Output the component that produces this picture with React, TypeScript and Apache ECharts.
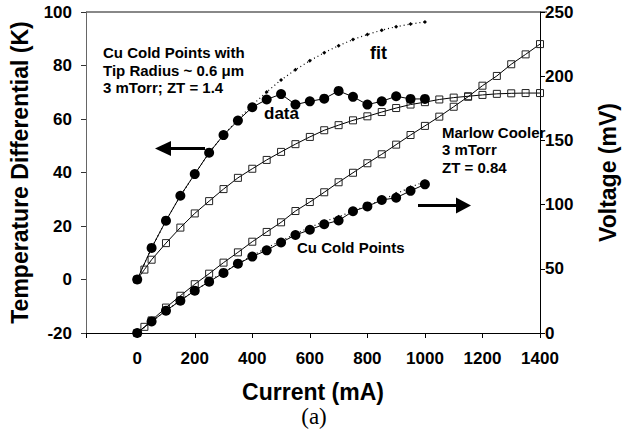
import React, { useEffect, useRef } from 'react';
import * as echarts from 'echarts';

// Cu cold points (filled circles), current in mA
const cuCurrent = [0, 50, 100, 150, 200, 250, 300, 350, 400, 450, 500, 550, 600, 650, 700, 750, 800, 850, 900, 950, 1000];
const cuTempData = [0, 11.8, 22, 31.3, 39.4, 47.4, 54, 59.4, 64.4, 67.3, 69.3, 65.4, 66.6, 67.6, 70.5, 68.3, 65.4, 66.6, 68.5, 67.5, 67.5];
const cuTempFit = [0, 11.8, 22, 31.3, 39.4, 47.4, 54, 59.8, 65.2, 70.1, 74.6, 78.4, 81.8, 84.8, 87.4, 89.7, 91.6, 93.2, 94.5, 95.5, 96.3];
const cuVoltData = [0, 9, 17.4, 25.2, 33, 40, 46.8, 54, 59.5, 64.4, 70.5, 76.3, 80.4, 84.7, 87.6, 94.8, 98.6, 103.6, 105.3, 110.7, 115.8];
const cuVoltFit = [0, 8.8, 17.2, 25.3, 33, 40.3, 47.3, 54, 60.3, 66.2, 71.8, 77.1, 82.2, 86.8, 90.6, 95, 99.3, 103.6, 108.4, 113.5, 118];

// Marlow cooler (open squares)
const marlowCurrent = [0, 25, 50, 100, 150, 200, 250, 300, 350, 400, 450, 500, 550, 600, 650, 700, 750, 800, 850, 900, 950, 1000, 1050, 1100, 1150, 1200, 1250, 1300, 1350, 1400];
const marlowTemp = [0, 3.7, 7.4, 13.6, 19.4, 24.7, 29.3, 33.8, 38, 41.4, 44.7, 47.7, 50.6, 53.3, 55.8, 57.7, 59.5, 61, 62.6, 64.1, 65.4, 66.3, 67.3, 68, 68.5, 69, 69.4, 69.6, 69.7, 69.7];
const marlowVolt = [0, 4.8, 9.8, 19.8, 29, 38, 46.2, 54.8, 62.8, 71.1, 78.7, 86.2, 95, 102, 109.6, 117.4, 124.8, 132.2, 139.2, 146.7, 154.2, 161.3, 168.5, 176.2, 184, 192.6, 200.2, 209.3, 217, 225];

const FONT = "'Liberation Sans', Arial, Helvetica, sans-serif";

function pairs(xs: number[], ys: number[]) {
  return xs.map((x, i) => [x, ys[i]]);
}

export default function App() {
  const ref = useRef<HTMLDivElement>(null);
  useEffect(() => {
    document.body.style.margin = '0';
    if (!ref.current) return;
    const chart = echarts.init(ref.current, undefined, { renderer: 'svg' });
    const circleLine = (name: string, xs: number[], ys: number[], yAxisIndex: number) => ({
      name,
      type: 'line',
      yAxisIndex,
      data: pairs(xs, ys),
      symbol: 'circle',
      symbolSize: 10,
      itemStyle: { color: '#000' },
      lineStyle: { color: '#000', width: 1 },
      z: 5,
    });
    const squareLine = (name: string, xs: number[], ys: number[], yAxisIndex: number) => ({
      name,
      type: 'line',
      yAxisIndex,
      data: pairs(xs, ys),
      symbol: 'rect',
      symbolSize: 7,
      itemStyle: { color: 'transparent', borderColor: '#222', borderWidth: 1 },
      lineStyle: { color: '#000', width: 1 },
      z: 4,
    });
    const fitLine = (name: string, xs: number[], ys: number[], yAxisIndex: number) => ({
      name,
      type: 'line',
      yAxisIndex,
      data: pairs(xs, ys),
      symbol: 'diamond',
      symbolSize: 4,
      itemStyle: { color: '#000' },
      lineStyle: { color: '#000', width: 1.2, type: [1, 3] },
      z: 3,
    });
    const labelStyle = { color: '#000', fontFamily: FONT, fontWeight: 700, fontSize: 17 };
    const nameStyle = { color: '#000', fontFamily: FONT, fontWeight: 700, fontSize: 23 };
    const txt = (t: string, x: number, y: number, size: number) => ({
      type: 'text',
      x,
      y,
      style: { text: t, fill: '#000', font: `bold ${size}px ${FONT}`, textVerticalAlign: 'middle', textAlign: 'left' },
    });
    chart.setOption({
      animation: false,
      backgroundColor: '#fff',
      grid: { left: 86, right: 80, top: 12, bottom: 102, containLabel: false },
      xAxis: {
        type: 'value',
        min: -178,
        max: 1400,
        splitNumber: 8,
        minInterval: 200,
        maxInterval: 200,
        name: 'Current (mA)',
        nameLocation: 'middle',
        nameGap: 47,
        nameTextStyle: nameStyle,
        axisLine: { onZero: false, lineStyle: { color: '#000', width: 1 } },
        axisTick: { inside: false, length: 5, lineStyle: { color: '#000' } },
        axisLabel: { ...labelStyle, margin: 17, formatter: (v: number) => (v < 0 ? '' : String(v)) },
        splitLine: { show: false },
      },
      yAxis: [
        {
          type: 'value',
          min: -20,
          max: 100,
          interval: 20,
          position: 'left',
          name: 'Temperature Differential (K)',
          nameLocation: 'middle',
          nameGap: 55,
          nameTextStyle: nameStyle,
          axisLine: { show: true, onZero: false, lineStyle: { color: '#666', width: 1 } },
          axisTick: { show: true, length: 5, lineStyle: { color: '#333' } },
          axisLabel: { ...labelStyle, margin: 14 },
          splitLine: { show: false },
        },
        {
          type: 'value',
          min: 0,
          max: 250,
          interval: 50,
          position: 'right',
          name: 'Voltage (mV)',
          nameLocation: 'middle',
          nameGap: 56,
          nameTextStyle: nameStyle,
          axisLine: { show: true, onZero: false, lineStyle: { color: '#000', width: 1 } },
          axisTick: { show: true, length: 5, lineStyle: { color: '#000' } },
          axisLabel: { ...labelStyle, margin: 5 },
          splitLine: { show: false },
        },
      ],
      series: [
        fitLine('Cu temperature fit', cuCurrent, cuTempFit, 0),
        fitLine('Cu voltage fit', cuCurrent, cuVoltFit, 1),
        squareLine('Marlow temperature', marlowCurrent, marlowTemp, 0),
        squareLine('Marlow voltage', marlowCurrent, marlowVolt, 1),
        circleLine('Cu temperature', cuCurrent, cuTempData, 0),
        circleLine('Cu voltage', cuCurrent, cuVoltData, 1),
      ],
      graphic: [
        { type: 'line', shape: { x1: 86, y1: 12, x2: 547, y2: 12 }, style: { stroke: '#888', lineWidth: 2 } },
        txt('Cu Cold Points with', 103, 52.5, 15),
        txt('Tip Radius ~ 0.6 μm', 103, 70.5, 15),
        txt('3 mTorr; ZT = 1.4', 103, 87.5, 15),
        txt('data', 264, 113, 17),
        txt('fit', 370, 53, 18),
        txt('Marlow Cooler', 442, 132, 15),
        txt('3 mTorr', 442, 149.5, 15),
        txt('ZT = 0.84', 442, 167, 15),
        txt('Cu Cold Points', 297, 247.5, 15),
        { type: 'line', shape: { x1: 169, y1: 148.5, x2: 205, y2: 148.5 }, style: { stroke: '#000', lineWidth: 3 } },
        { type: 'polygon', shape: { points: [[155, 148.5], [171, 141], [171, 156]] }, style: { fill: '#000' } },
        { type: 'line', shape: { x1: 418, y1: 205.5, x2: 458, y2: 205.5 }, style: { stroke: '#000', lineWidth: 3 } },
        { type: 'polygon', shape: { points: [[471, 205.5], [456, 197.5], [456, 213.5]] }, style: { fill: '#000' } },
        {
          type: 'text',
          x: 314,
          y: 416,
          style: { text: '(a)', fill: '#000', font: "23px 'Liberation Serif', 'Times New Roman', serif", textAlign: 'center', textVerticalAlign: 'middle' },
        },
      ],
    });
    return () => chart.dispose();
  }, []);
  return <div ref={ref} style={{ width: 627, height: 435 }} />;
}
